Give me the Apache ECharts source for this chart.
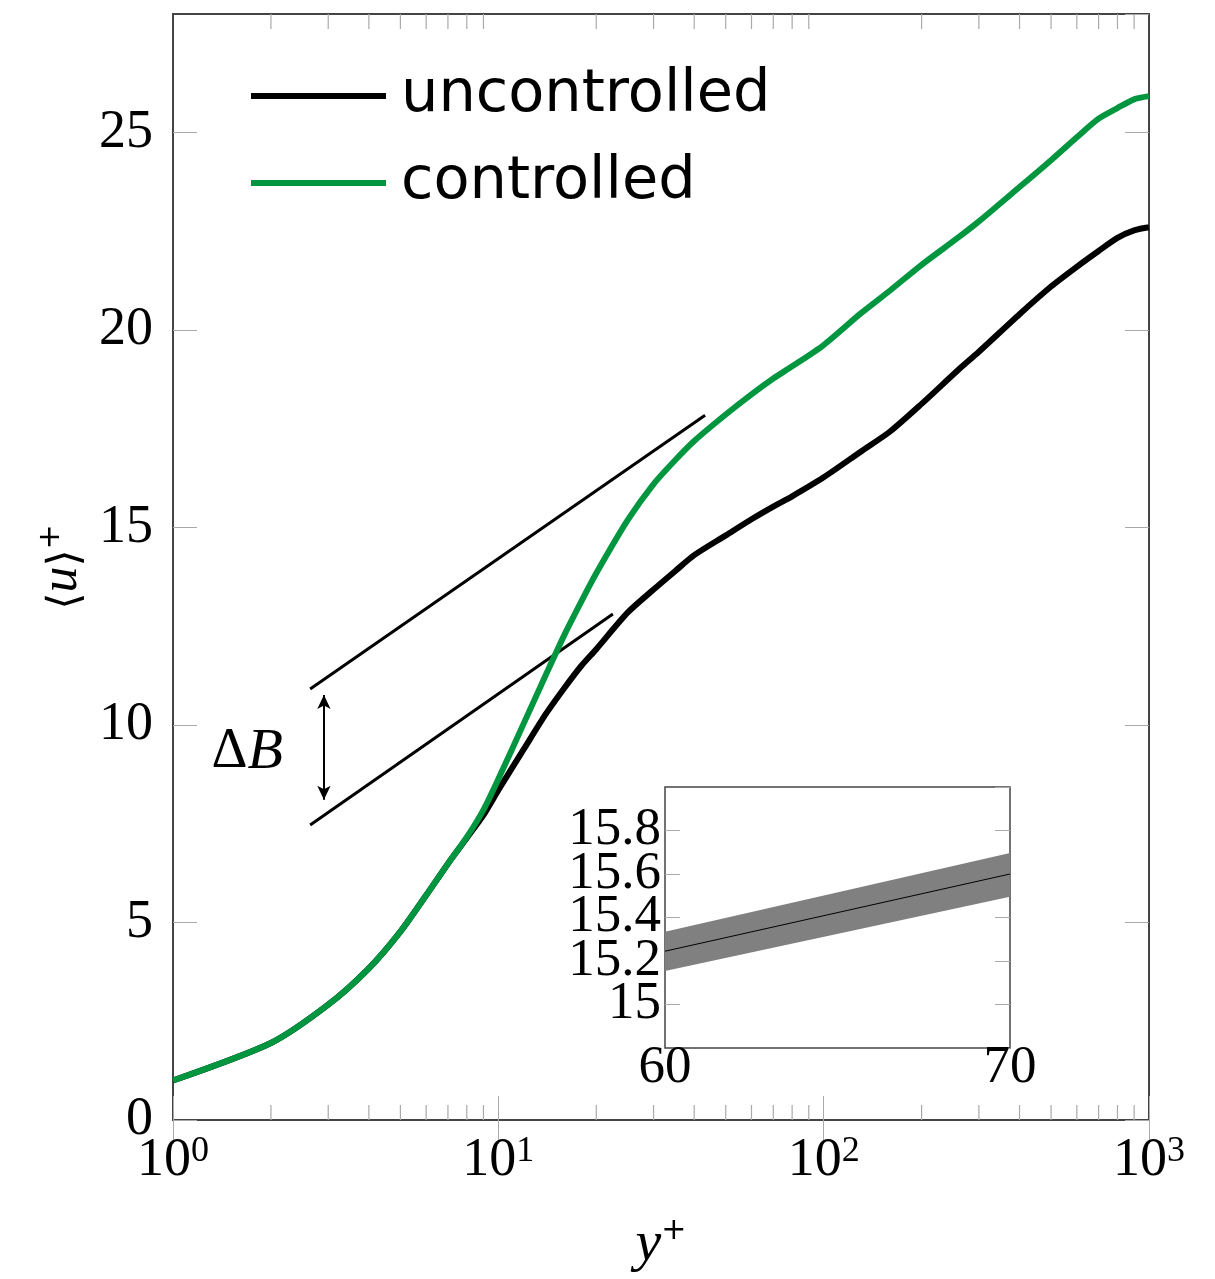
<!DOCTYPE html>
<html>
<head>
<meta charset="utf-8">
<script src="https://cdn.jsdelivr.net/npm/echarts@6/dist/echarts.min.js"></script>
<style>
  html, body { margin: 0; padding: 0; background: #fff; }
  #main { width: 1215px; height: 1279px; }
</style>
</head>
<body>
<div id="main"></div>
<script>
// wall distance y+ (shared by both profiles)
const yPlus = [1, 2, 3, 4, 5, 6, 7, 8, 9, 10, 12, 14, 16, 18, 20, 25, 30, 35, 40, 50, 60, 70, 80,
  100, 130, 160, 200, 260, 300, 400, 500, 600, 700, 800, 900, 1000];
// mean velocity <u>+
const uncontrolled = [1.0, 1.95, 2.92, 3.84, 4.77, 5.69, 6.49, 7.14, 7.72, 8.35, 9.4, 10.28, 10.95, 11.5, 11.92, 12.85, 13.43, 13.9, 14.3, 14.8, 15.21, 15.53, 15.79,
  16.27, 16.92, 17.43, 18.13, 19.0, 19.45, 20.4, 21.1, 21.6, 22.0, 22.33, 22.52, 22.6];
const controlled = [1.0, 1.95, 2.92, 3.84, 4.77, 5.69, 6.49, 7.16, 7.85, 8.63, 10.06, 11.27, 12.3, 13.13, 13.84, 15.19, 16.1, 16.71, 17.19, 17.86, 18.37, 18.77, 19.08,
  19.62, 20.42, 21.0, 21.65, 22.35, 22.75, 23.62, 24.3, 24.88, 25.35, 25.62, 25.84, 25.92];

// log-law reference lines [y+, u+]
const logLawUpper = [[2.64, 10.91], [43.2, 17.84]];
const logLawLower = [[2.64, 7.47], [22.5, 12.81]];
const deltaBArrow = [[2.91, 10.76], [2.91, 8.11]];
const deltaBLabelAt = [1.69, 9.3];

// inset: zoom on 60 <= y+ <= 70 with confidence band
const insetX = [60, 70];
const insetMean = [15.245, 15.6];
const insetLow = [15.154, 15.495];
const insetHigh = [15.334, 15.696];

// log axis minor ticks
const minorTicks = [2, 3, 4, 5, 6, 7, 8, 9, 20, 30, 40, 50, 60, 70, 80, 90, 200, 300, 400, 500, 600, 700, 800, 900];

const Y_MAX = 28;
const GREEN = '#00963f';
const SERIF = '"Liberation Serif", "DejaVu Serif", serif';
const TICK = '#aaaaaa';
const FRAME = '#444444';

const zip = (xs, ys) => xs.map((x, i) => [x, ys[i]]);

const chart = echarts.init(document.getElementById('main'));

const option = {
  animation: false,
  backgroundColor: '#fff',
  grid: [
    {left: 173, right: 66, top: 14, bottom: 153, show: true, borderColor: FRAME, borderWidth: 2, backgroundColor: 'transparent'},
    {left: 665, top: 787, width: 345, height: 261, show: true, borderColor: FRAME, borderWidth: 1.5, backgroundColor: '#fff'}
  ],
  legend: {
    data: ['uncontrolled', 'controlled'],
    orient: 'vertical',
    left: 246,
    top: 61,
    icon: 'rect',
    itemWidth: 135,
    itemHeight: 6,
    itemGap: 27,
    textStyle: {fontFamily: '"DejaVu Sans", sans-serif', fontSize: 59, color: '#000', lineHeight: 60, padding: [0, 0, 0, 10]}
  },
  xAxis: [
    {
      type: 'log', logBase: 10, min: 1, max: 1000, gridIndex: 0,
      axisLine: {show: false},
      splitLine: {show: false},
      axisTick: {inside: true, length: 24, lineStyle: {color: TICK, width: 1}},
      axisLabel: {
        margin: 14,
        formatter: v => '{b|10}{s|' + Math.round(Math.log10(v)) + '}',
        rich: {
          b: {fontFamily: SERIF, fontSize: 54, color: '#000', verticalAlign: 'bottom'},
          s: {fontFamily: SERIF, fontSize: 36, color: '#000', verticalAlign: 'top'}
        }
      },
      name: '{y|y}{p|+}',
      nameLocation: 'middle',
      nameGap: 96,
      nameTextStyle: {
        rich: {
          y: {fontFamily: SERIF, fontStyle: 'italic', fontSize: 58, color: '#000', verticalAlign: 'bottom'},
          p: {fontFamily: '"DejaVu Sans", sans-serif', fontSize: 30, color: '#000', verticalAlign: 'top'}
        }
      }
    },
    {
      type: 'log', logBase: 10, min: 1, max: 1000, gridIndex: 0, position: 'top',
      axisLine: {show: false}, splitLine: {show: false}, axisLabel: {show: false},
      axisTick: {inside: true, length: 24, lineStyle: {color: TICK, width: 1}}
    },
    {
      type: 'value', min: 60, max: 70, interval: 10, gridIndex: 1,
      axisLine: {show: false}, splitLine: {show: false}, axisTick: {show: false},
      axisLabel: {margin: -6, fontFamily: SERIF, fontSize: 53, color: '#000'}
    }
  ],
  yAxis: [
    {
      type: 'value', min: 0, max: Y_MAX, interval: 5, gridIndex: 0,
      axisLine: {show: false}, splitLine: {show: false},
      axisTick: {inside: true, length: 24, lineStyle: {color: TICK, width: 1}},
      axisLabel: {margin: 20, showMaxLabel: false, fontFamily: SERIF, fontSize: 54, color: '#000'},
      name: '{a|⟨}{u|u}{a|⟩}{p|+}',
      nameLocation: 'middle',
      nameRotate: 90,
      nameGap: 82,
      nameTextStyle: {
        rich: {
          a: {fontFamily: '"DejaVu Serif", serif', fontSize: 44, color: '#000', verticalAlign: 'bottom'},
          u: {fontFamily: SERIF, fontStyle: 'italic', fontSize: 52, color: '#000', verticalAlign: 'bottom'},
          p: {fontFamily: '"DejaVu Sans", sans-serif', fontSize: 30, color: '#000', verticalAlign: 'top'}
        }
      }
    },
    {
      type: 'value', min: 0, max: Y_MAX, interval: 5, gridIndex: 0, position: 'right',
      axisLine: {show: false}, splitLine: {show: false}, axisLabel: {show: false},
      axisTick: {inside: true, length: 24, lineStyle: {color: TICK, width: 1}}
    },
    {
      type: 'value', min: 14.8, max: 16, interval: 0.2, gridIndex: 1,
      axisLine: {show: false}, splitLine: {show: false},
      axisTick: {inside: true, length: 15, lineStyle: {color: TICK, width: 1}},
      axisLabel: {
        margin: 4, showMinLabel: false, showMaxLabel: false,
        fontFamily: SERIF, fontSize: 53, color: '#000',
        formatter: v => (Math.round(v * 10) / 10).toString()
      }
    },
    {
      type: 'value', min: 14.8, max: 16, interval: 0.2, gridIndex: 1, position: 'right',
      axisLine: {show: false}, splitLine: {show: false}, axisLabel: {show: false},
      axisTick: {inside: true, length: 15, lineStyle: {color: TICK, width: 1}}
    }
  ],
  series: [
    {
      name: 'minorBottom', type: 'scatter', xAxisIndex: 0, yAxisIndex: 0, silent: true, clip: false,
      symbol: 'rect', symbolSize: [1.2, 15], symbolOffset: [0, -7.5],
      itemStyle: {color: TICK, opacity: 1},
      data: minorTicks.map(v => [v, 0])
    },
    {
      name: 'minorTop', type: 'scatter', xAxisIndex: 0, yAxisIndex: 0, silent: true, clip: false,
      symbol: 'rect', symbolSize: [1.2, 15], symbolOffset: [0, 7.5],
      itemStyle: {color: TICK, opacity: 1},
      data: minorTicks.map(v => [v, Y_MAX])
    },
    {
      name: 'logLawUpper', type: 'line', xAxisIndex: 0, yAxisIndex: 0, symbol: 'none', silent: true,
      lineStyle: {color: '#000', width: 3},
      data: logLawUpper
    },
    {
      name: 'logLawLower', type: 'line', xAxisIndex: 0, yAxisIndex: 0, symbol: 'none', silent: true,
      lineStyle: {color: '#000', width: 3},
      data: logLawLower,
      markLine: {
        silent: true,
        symbol: ['arrow', 'arrow'],
        symbolSize: [10, 14],
        lineStyle: {color: '#000', width: 2, type: 'solid'},
        label: {show: false},
        data: [[{coord: deltaBArrow[0]}, {coord: deltaBArrow[1]}]]
      }
    },
    {
      name: 'deltaB', type: 'scatter', xAxisIndex: 0, yAxisIndex: 0, symbolSize: 1, silent: true,
      itemStyle: {color: 'rgba(0,0,0,0)', opacity: 1},
      label: {
        show: true, position: 'inside', color: '#000', textBorderWidth: 0,
        formatter: '{d|Δ}{b|B}',
        rich: {
          d: {fontFamily: SERIF, fontSize: 56, color: '#000', textBorderWidth: 0},
          b: {fontFamily: SERIF, fontStyle: 'italic', fontSize: 58, color: '#000', textBorderWidth: 0}
        }
      },
      data: [deltaBLabelAt]
    },
    {
      name: 'uncontrolled', type: 'line', xAxisIndex: 0, yAxisIndex: 0, symbol: 'none', showSymbol: false,
      smooth: 0.25, color: '#000', lineStyle: {color: '#000', width: 6}, z: 4,
      data: zip(yPlus, uncontrolled)
    },
    {
      name: 'controlled', type: 'line', xAxisIndex: 0, yAxisIndex: 0, symbol: 'none', showSymbol: false,
      smooth: 0.25, color: GREEN, lineStyle: {color: GREEN, width: 6}, z: 5,
      data: zip(yPlus, controlled)
    },
    {
      name: 'insetBand', type: 'custom', xAxisIndex: 2, yAxisIndex: 2, silent: true, z: 3,
      data: insetX.map((x, i) => [x, insetLow[i], insetHigh[i]]),
      encode: {x: 0, y: [1, 2]},
      renderItem: (params, api) => {
        if (params.dataIndex !== 0) return;
        const pts = insetX.map((x, i) => api.coord([x, insetHigh[i]]));
        for (let i = insetX.length - 1; i >= 0; i--) pts.push(api.coord([insetX[i], insetLow[i]]));
        return {type: 'polygon', shape: {points: pts}, style: {fill: '#808080'}};
      }
    },
    {
      name: 'insetMean', type: 'line', xAxisIndex: 2, yAxisIndex: 2, symbol: 'none', silent: true, z: 4,
      lineStyle: {color: '#000', width: 1},
      data: zip(insetX, insetMean)
    }
  ]
};

chart.setOption(option);
</script>
</body>
</html>
